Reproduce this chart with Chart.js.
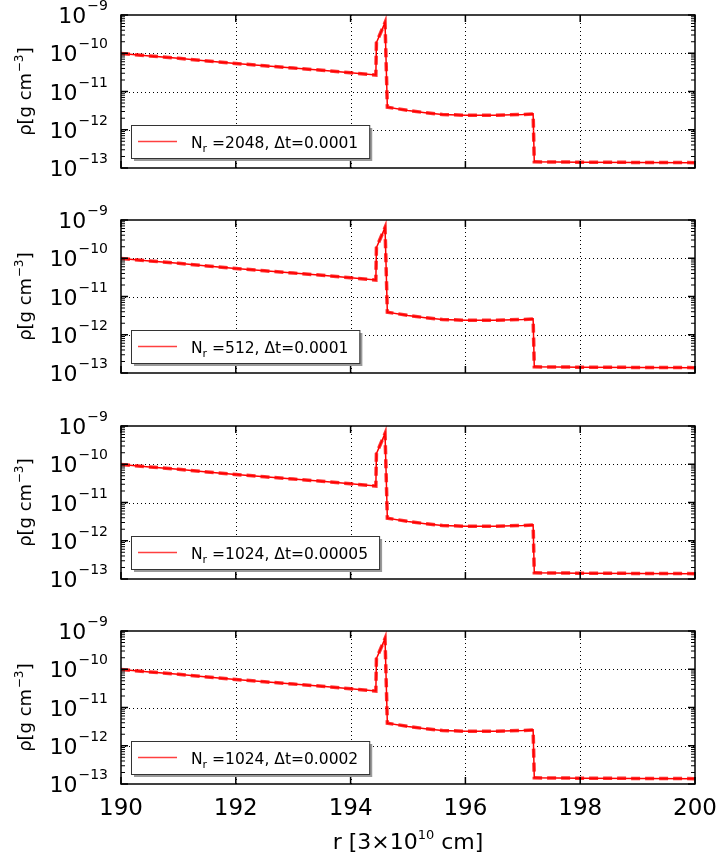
<!DOCTYPE html>
<html>
<head>
<meta charset="utf-8">
<script src="https://cdn.jsdelivr.net/npm/chart.js@4.4.0/dist/chart.umd.min.js"></script>
<style>
body { margin: 0; background: #fff; }
#wrap { position: relative; width: 719px; height: 859px; }
#wrap canvas { position: absolute; left: 0; top: 0; }
</style>
</head>
<body>
<div id="wrap">
    <canvas id="panel0" width="719" height="859"></canvas>
    <canvas id="panel1" width="719" height="859"></canvas>
    <canvas id="panel2" width="719" height="859"></canvas>
    <canvas id="panel3" width="719" height="859"></canvas>
</div>
<script>
// Raio [3x10^10 cm] e densidade [g cm^-3]
const radius = [190, 190.5, 191, 191.5, 192, 192.5, 193, 193.5, 194, 194.44,
    194.45, 194.6, 194.64, 195.0, 195.3, 195.6, 196.0, 196.5, 197.0, 197.18,
    197.2, 198, 199, 200];
const densityNr2048 = [9.8e-11, 8.5e-11, 7.4e-11, 6.3e-11, 5.4e-11, 4.7e-11, 4.1e-11, 3.6e-11, 3.1e-11, 2.7e-11,
    1.9e-10, 6.4e-10, 3.9e-12, 3.2e-12, 2.8e-12, 2.5e-12, 2.4e-12, 2.4e-12, 2.5e-12, 2.6e-12,
    1.45e-13, 1.42e-13, 1.4e-13, 1.38e-13];
const densityNr512 = [9.8e-11, 8.5e-11, 7.4e-11, 6.3e-11, 5.4e-11, 4.7e-11, 4.1e-11, 3.6e-11, 3.1e-11, 2.7e-11,
    1.9e-10, 6.4e-10, 3.9e-12, 3.2e-12, 2.8e-12, 2.5e-12, 2.4e-12, 2.4e-12, 2.5e-12, 2.6e-12,
    1.45e-13, 1.42e-13, 1.4e-13, 1.38e-13];
const densityNr1024a = [9.8e-11, 8.5e-11, 7.4e-11, 6.3e-11, 5.4e-11, 4.7e-11, 4.1e-11, 3.6e-11, 3.1e-11, 2.7e-11,
    1.9e-10, 6.4e-10, 3.9e-12, 3.2e-12, 2.8e-12, 2.5e-12, 2.4e-12, 2.4e-12, 2.5e-12, 2.6e-12,
    1.45e-13, 1.42e-13, 1.4e-13, 1.38e-13];
const densityNr1024b = [9.8e-11, 8.5e-11, 7.4e-11, 6.3e-11, 5.4e-11, 4.7e-11, 4.1e-11, 3.6e-11, 3.1e-11, 2.7e-11,
    1.9e-10, 6.4e-10, 3.9e-12, 3.2e-12, 2.8e-12, 2.5e-12, 2.4e-12, 2.4e-12, 2.5e-12, 2.6e-12,
    1.45e-13, 1.42e-13, 1.4e-13, 1.38e-13];

const panelDensity = [densityNr2048, densityNr512, densityNr1024a, densityNr1024b];
const legendNr = ['2048', '512', '1024', '1024'];
const legendDt = ['0.0001', '0.0001', '0.00005', '0.0002'];
const xTicks = [190, 192, 194, 196, 198, 200];
const yExponents = [-13, -12, -11, -10, -9];

const FONT = '"DejaVu Sans", sans-serif';
const panelTops = [15, 220, 426, 631];
const panelHeight = 153;

// Moldura, marcas, rótulos e legenda de cada painel
const panelDecor = {
    id: 'panelDecor',
    beforeDatasetsDraw(chart) {
        const ctx = chart.ctx, a = chart.chartArea;
        const xs = chart.scales.x, ys = chart.scales.y;
        ctx.save();
        ctx.strokeStyle = '#000';
        ctx.lineWidth = 1;
        ctx.setLineDash([1, 3]);
        xTicks.slice(1, -1).forEach(v => {
            const px = Math.round(xs.getPixelForValue(v)) + 0.5;
            ctx.beginPath(); ctx.moveTo(px, a.top); ctx.lineTo(px, a.bottom); ctx.stroke();
        });
        yExponents.slice(1, -1).forEach(e => {
            const py = Math.round(ys.getPixelForValue(Math.pow(10, e))) + 0.5;
            ctx.beginPath(); ctx.moveTo(a.left, py); ctx.lineTo(a.right, py); ctx.stroke();
        });
        ctx.restore();
    },
    afterDraw(chart, args, opts) {
        const ctx = chart.ctx, a = chart.chartArea;
        const xs = chart.scales.x, ys = chart.scales.y;
        ctx.save();
        ctx.strokeStyle = '#000';
        ctx.fillStyle = '#000';
        ctx.lineWidth = 1.5;

        // marcas maiores e menores (para dentro)
        xTicks.forEach(v => {
            const px = xs.getPixelForValue(v);
            ctx.beginPath();
            ctx.moveTo(px, a.bottom); ctx.lineTo(px, a.bottom - 7);
            ctx.moveTo(px, a.top); ctx.lineTo(px, a.top + 7);
            ctx.stroke();
        });
        yExponents.forEach(e => {
            const py = ys.getPixelForValue(Math.pow(10, e));
            ctx.beginPath();
            ctx.moveTo(a.left, py); ctx.lineTo(a.left + 7, py);
            ctx.moveTo(a.right, py); ctx.lineTo(a.right - 7, py);
            ctx.stroke();
        });
        ctx.lineWidth = 1;
        yExponents.slice(0, -1).forEach(e => {
            for (let m = 2; m <= 9; m++) {
                const py = ys.getPixelForValue(m * Math.pow(10, e));
                ctx.beginPath();
                ctx.moveTo(a.left, py); ctx.lineTo(a.left + 4, py);
                ctx.moveTo(a.right, py); ctx.lineTo(a.right - 4, py);
                ctx.stroke();
            }
        });

        // moldura
        ctx.lineWidth = 1.5;
        ctx.strokeRect(a.left, a.top, a.right - a.left, a.bottom - a.top);

        // rótulos do eixo y: 10^e
        ctx.textBaseline = 'alphabetic';
        yExponents.forEach(e => {
            const py = ys.getPixelForValue(Math.pow(10, e));
            const sup = '\u2212' + Math.abs(e);
            ctx.font = '22px ' + FONT;
            const w1 = ctx.measureText('10').width;
            ctx.font = '14px ' + FONT;
            const w2 = ctx.measureText(sup).width;
            const x0 = a.left - 13 - w2 - w1 - 1;
            ctx.font = '22px ' + FONT;
            ctx.textAlign = 'left';
            ctx.fillText('10', x0, py + 8);
            ctx.font = '14px ' + FONT;
            ctx.fillText(sup, x0 + w1 + 1, py - 5);
        });

        // título do eixo y
        ctx.save();
        ctx.translate(31, (a.top + a.bottom) / 2);
        ctx.rotate(-Math.PI / 2);
        ctx.font = '18px ' + FONT;
        const t1 = '\u03c1[g cm', t3 = ']';
        const wt1 = ctx.measureText(t1).width, wt3 = ctx.measureText(t3).width;
        ctx.font = '12px ' + FONT;
        const t2 = '\u22123', wt2 = ctx.measureText(t2).width;
        let tx = -(wt1 + wt2 + wt3 + 1) / 2;
        ctx.font = '18px ' + FONT;
        ctx.fillText(t1, tx, 0);
        ctx.font = '12px ' + FONT;
        ctx.fillText(t2, tx + wt1 + 0.5, -8);
        ctx.font = '18px ' + FONT;
        ctx.fillText(t3, tx + wt1 + wt2 + 1, 0);
        ctx.restore();

        // eixo x só no painel de baixo
        if (opts.showX) {
            ctx.font = '23px ' + FONT;
            ctx.textAlign = 'center';
            xTicks.forEach(v => ctx.fillText(String(v), xs.getPixelForValue(v), a.bottom + 31));
            ctx.textAlign = 'left';
            ctx.font = '22px ' + FONT;
            const s1 = 'r [3\u00d710', s3 = ' cm]';
            const ws1 = ctx.measureText(s1).width, ws3 = ctx.measureText(s3).width;
            ctx.font = '13px ' + FONT;
            const s2 = '10', ws2 = ctx.measureText(s2).width;
            let sx = (a.left + a.right) / 2 - (ws1 + ws2 + ws3) / 2;
            ctx.font = '22px ' + FONT;
            ctx.fillText(s1, sx, a.bottom + 65);
            ctx.font = '13px ' + FONT;
            ctx.fillText(s2, sx + ws1, a.bottom + 55);
            ctx.font = '22px ' + FONT;
            ctx.fillText(s3, sx + ws1 + ws2, a.bottom + 65);
        }

        // legenda
        const lt1 = 'N', lt2 = 'r', lt3 = ' =' + opts.nr + ', \u0394t=' + opts.dt;
        ctx.font = '15.5px ' + FONT;
        const wl1 = ctx.measureText(lt1).width, wl3 = ctx.measureText(lt3).width;
        ctx.font = '11px ' + FONT;
        const wl2 = ctx.measureText(lt2).width;
        const bx = a.left + 10, bh = 33, by = a.bottom - 10 - bh;
        const bw = 60 + wl1 + wl2 + wl3 + 11;
        ctx.fillStyle = '#9a9a9a';
        ctx.fillRect(bx + 3, by + 3, bw, bh);
        ctx.fillStyle = '#fff';
        ctx.fillRect(bx, by, bw, bh);
        ctx.strokeStyle = '#333';
        ctx.lineWidth = 1;
        ctx.strokeRect(bx + 0.5, by + 0.5, bw, bh);
        ctx.strokeStyle = 'rgba(255,0,0,0.75)';
        ctx.lineWidth = 1.5;
        ctx.beginPath();
        ctx.moveTo(bx + 7, by + bh / 2); ctx.lineTo(bx + 46, by + bh / 2);
        ctx.stroke();
        ctx.fillStyle = '#000';
        const base = by + 23;
        ctx.font = '15.5px ' + FONT;
        ctx.fillText(lt1, bx + 60, base);
        ctx.font = '11px ' + FONT;
        ctx.fillText(lt2, bx + 60 + wl1, base + 4);
        ctx.font = '15.5px ' + FONT;
        ctx.fillText(lt3, bx + 60 + wl1 + wl2, base);
        ctx.restore();
    }
};

function buildPanel(i) {
    const points = radius.map((r, k) => ({ x: r, y: panelDensity[i][k] }));
    const top = panelTops[i];
    return new Chart(document.getElementById('panel' + i), {
        type: 'line',
        data: {
            datasets: [{
                data: points,
                borderColor: 'rgba(255,0,0,0.8)',
                borderWidth: 3.5,
                borderDash: [9, 5],
                pointRadius: 0,
                tension: 0,
                order: 2
            }, {
                data: points,
                borderColor: '#ff0000',
                borderWidth: 1.5,
                pointRadius: 0,
                tension: 0,
                order: 1
            }]
        },
        options: {
            responsive: false,
            animation: false,
            events: [],
            layout: {
                padding: { left: 121, right: 24, top: top, bottom: 859 - top - panelHeight }
            },
            scales: {
                x: { type: 'linear', min: 190, max: 200, display: false },
                y: { type: 'logarithmic', min: 1e-13, max: 1e-9, display: false }
            },
            plugins: {
                legend: { display: false },
                tooltip: { enabled: false },
                panelDecor: { nr: legendNr[i], dt: legendDt[i], showX: i === 3 }
            }
        },
        plugins: [panelDecor]
    });
}

[0, 1, 2, 3].forEach(buildPanel);
</script>
</body>
</html>
